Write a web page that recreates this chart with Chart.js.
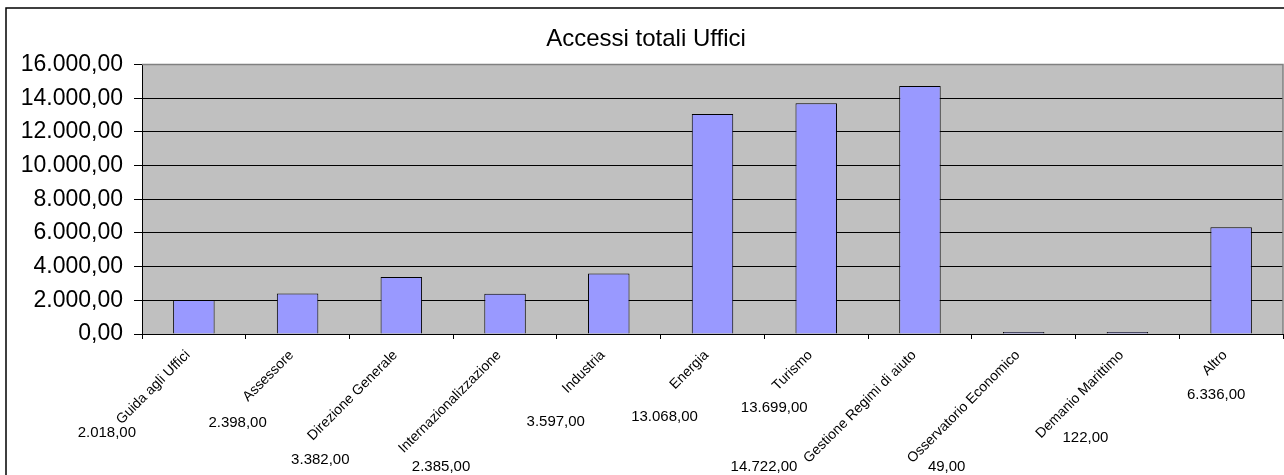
<!DOCTYPE html>
<html>
<head>
<meta charset="utf-8">
<script src="https://cdn.jsdelivr.net/npm/chart.js@4.4.0/dist/chart.umd.min.js"></script>
<style>
html, body { margin: 0; padding: 0; background: #fff; }
#wrap { position: relative; width: 1284px; height: 475px; }
</style>
</head>
<body>
<div id="wrap"><canvas id="myChart" width="1284" height="475"></canvas></div>
<script>
const titleText = 'Accessi totali Uffici';
const categories = ['Guida agli Uffici', 'Assessore', 'Direzione Generale', 'Internazionalizzazione',
  'Industria', 'Energia', 'Turismo', 'Gestione Regimi di aiuto', 'Osservatorio Economico',
  'Demanio Marittimo', 'Altro'];
const accessi = [2018, 2398, 3382, 2385, 3597, 13068, 13699, 14722, 49, 122, 6336];
const yMin = 0;
const yMax = 16000;
const yStep = 2000;

// where excel left the data labels, relative to category centre / axis line
const labelDx = [-87, -60, -81, -64, -53, -48, -42, -156, -77, -42, -15];
const labelDy = [99, 89, 126, 133, 88, 83, 74, 133, 133, 104, 61];

const FONT = "'Liberation Sans', Arial, sans-serif";

function fmt(v) {
  const parts = v.toFixed(2).split('.');
  return parts[0].replace(/\B(?=(\d{3})+(?!\d))/g, '.') + ',' + parts[1];
}

const frame = {
  id: 'frame',
  beforeDraw(chart) {
    const ctx = chart.ctx, a = chart.chartArea;
    ctx.save();
    ctx.fillStyle = '#fff';
    ctx.fillRect(0, 0, chart.width, chart.height);
    ctx.strokeStyle = '#000';
    ctx.lineWidth = 1.5;
    ctx.strokeRect(6, 8, chart.width + 20, chart.height + 20);
    ctx.fillStyle = '#c0c0c0';
    ctx.fillRect(a.left, a.top, a.right - a.left, a.bottom - a.top);
    ctx.restore();
  },
  afterDraw(chart) {
    const ctx = chart.ctx, a = chart.chartArea;
    const xs = chart.scales.x;
    ctx.save();
    ctx.strokeStyle = '#808080';
    ctx.lineWidth = 1.5;
    ctx.beginPath();
    ctx.moveTo(a.left, a.top);
    ctx.lineTo(a.right, a.top);
    ctx.lineTo(a.right, a.bottom);
    ctx.stroke();
    ctx.fillStyle = '#000';
    ctx.font = '15px ' + FONT;
    ctx.textAlign = 'center';
    ctx.textBaseline = 'middle';
    accessi.forEach((v, i) => {
      const x = xs.getPixelForValue(i) + labelDx[i];
      const y = a.bottom + labelDy[i];
      ctx.fillText(fmt(v), x, y);
    });
    ctx.restore();
  }
};

new Chart(document.getElementById('myChart').getContext('2d'), {
  type: 'bar',
  data: {
    labels: categories,
    datasets: [{
      data: accessi,
      backgroundColor: '#9999ff',
      borderColor: '#000',
      borderWidth: 1,
      minBarLength: 2,
      barPercentage: 0.4,
      categoryPercentage: 1
    }]
  },
  options: {
    responsive: false,
    devicePixelRatio: 1,
    animation: false,
    layout: { padding: { left: 9, right: 1, top: 0, bottom: 0 } },
    plugins: {
      legend: { display: false },
      tooltip: { enabled: false },
      title: {
        display: true,
        text: titleText,
        color: '#000',
        font: { family: FONT, size: 24, weight: 'normal', lineHeight: 1.15 },
        padding: { top: 26, bottom: 11 }
      }
    },
    scales: {
      x: {
        grid: { display: true, drawOnChartArea: false, offset: true, color: '#000', tickLength: 5 },
        border: { color: '#000', width: 1 },
        ticks: {
          color: '#000',
          font: { family: FONT, size: 14 },
          minRotation: 45,
          maxRotation: 45,
          autoSkip: false,
          padding: 8,
          labelOffset: -6
        },
        afterFit(scale) { scale.height = 141; }
      },
      y: {
        min: yMin,
        max: yMax,
        grid: { color: '#000', tickLength: 8, lineWidth: 1 },
        border: { color: '#000', width: 1 },
        ticks: {
          stepSize: yStep,
          color: '#000',
          padding: 11,
          font: { family: FONT, size: 23 },
          callback: (v) => fmt(v)
        },
        afterFit(scale) { scale.width = 133; }
      }
    }
  },
  plugins: [frame]
});
</script>
</body>
</html>
